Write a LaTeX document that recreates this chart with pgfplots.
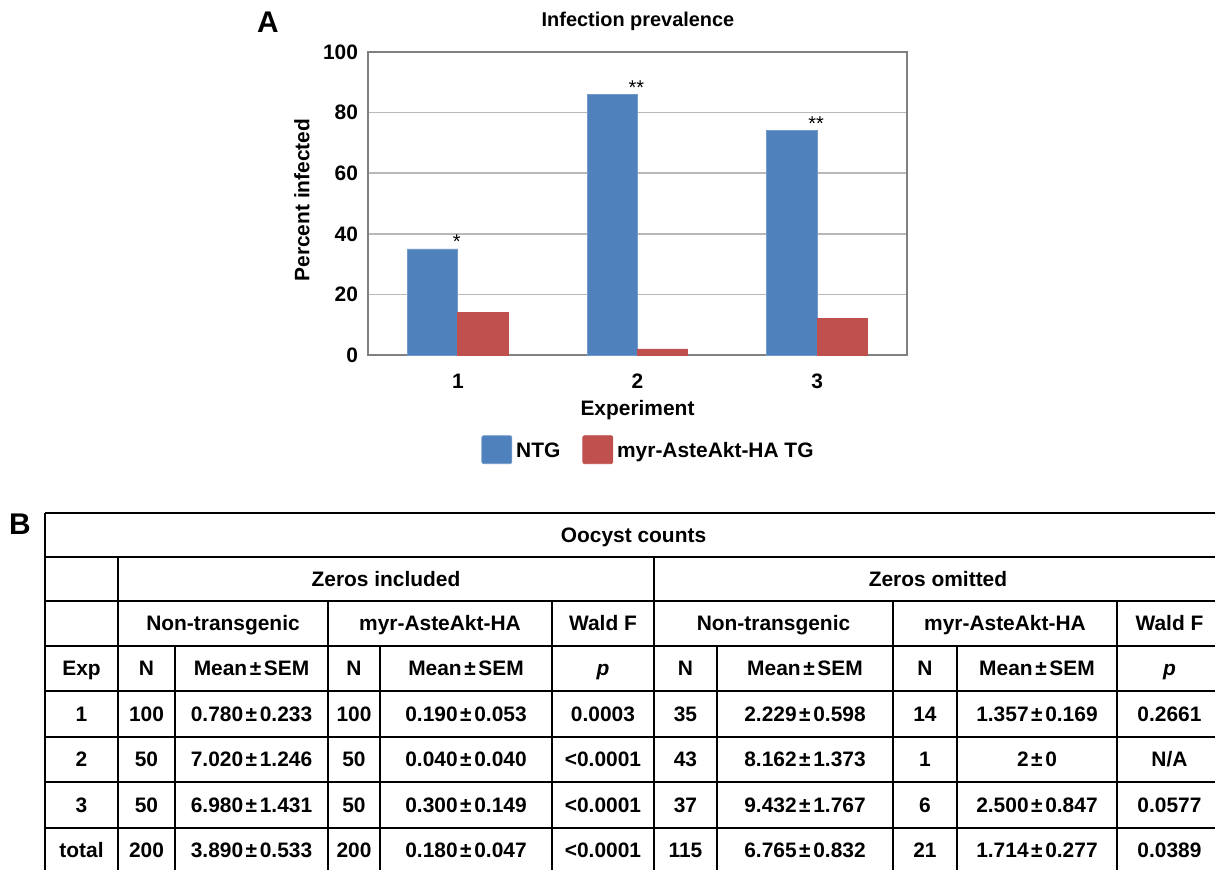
\documentclass[border=0pt]{standalone}
\usepackage{fontspec}
\setmainfont{Liberation Sans}
\usepackage{pgfplots}
\pgfplotsset{compat=1.18}
\definecolor{ntg}{HTML}{4F81BD}
\definecolor{tg}{HTML}{C0504D}
\newcommand\PM{\kern1.3pt±\kern1.3pt}
\newcommand\tf{\fontsize{10.5}{12}\selectfont\bfseries}
% one half row of the table: y, then 6 (left) or 5 (right) cells
\newcommand\rowL[7]{%
  \node at (81.5,#1) {#2}; \node at (146.5,#1) {#3}; \node at (251.5,#1) {#4};
  \node at (354,#1) {#5}; \node at (466,#1) {#6}; \node at (603,#1) {#7};}
\newcommand\rowR[6]{%
  \node at (685.5,#1) {#2}; \node at (805,#1) {#3}; \node at (925,#1) {#4};
  \node at (1037,#1) {#5}; \node at (1169.5,#1) {#6};}

\begin{document}
\begin{tikzpicture}
\path[use as bounding box] (0,0) rectangle (607.5bp,-435bp);
\begin{axis}[
  at={(184bp,-177.5bp)}, anchor=south west,
  width=269.5bp, height=151.5bp, scale only axis,
  ybar=0pt, bar width=0.28,
  xmin=0.5, xmax=3.5, ymin=0, ymax=100,
  xtick={1,2,3}, ytick={0,20,...,100},
  ymajorgrids, grid style={black!28, line width=0.8bp},
  axis line style={black!50, line width=0.8bp},
  major tick length=0pt,
  tick label style={font=\tf},
  /pgf/number format/assume math mode=true,
  yticklabel style={xshift=-1.5bp},
  xticklabel style={yshift=-6bp},
  xlabel={Experiment},
  xlabel style={at={(rel axis cs:0.5,0)}, anchor=center, yshift=-27.5bp, font=\tf},
  legend columns=2,
  legend style={at={(0.5,0)}, anchor=center, yshift=-47.5bp, xshift=6bp,
    draw=none, fill=none, font=\tf, inner sep=0pt,
    /tikz/every even column/.append style={column sep=9bp}},
  legend image code/.code={\fill[#1, rounded corners=1bp] (0bp,-6bp) rectangle (15bp,8bp);},
]
\addplot[fill=ntg, draw=ntg!80!white,
  point meta=explicit symbolic, nodes near coords,
  every node near coord/.append style={font=\fontsize{10}{12}\selectfont, inner sep=0pt, anchor=south, xshift=12bp}]
  coordinates {(1,35) [*] (2,86) [**] (3,74) [**]};
\addplot[fill=tg, draw=tg]
  coordinates {(1,14) (2,2) (3,12)};
\legend{NTG, myr-AsteAkt-HA TG}
\end{axis}

\begin{scope}[x=0.5bp, y=-0.5bp]
\clip (0,0) rectangle (1215,870);
\node[font=\fontsize{15}{18}\selectfont\bfseries] at (268,22) {A};
\node[font=\fontsize{15}{18}\selectfont\bfseries] at (20,524) {B};
\node[font=\fontsize{10}{12}\selectfont\bfseries, text height=7.2bp, text depth=0pt, inner sep=0pt] at (638,19) {Infection prevalence};
\node[font=\tf, rotate=90, text height=7.5bp, text depth=0pt, inner sep=0pt] at (302,200) {Percent infected};
\begin{scope}[line width=1bp, every node/.style={font=\tf, inner sep=0pt, text height=7.5bp, text depth=0pt}]
\foreach \y in {513,557,601,646,691,737,782,828}
  \draw (45,\y) -- (1230,\y);
\draw (45,513) -- (45,880);
\foreach \x in {118,654} \draw (\x,557) -- (\x,880);
\foreach \x in {328,552,893,1117} \draw (\x,601) -- (\x,880);
\foreach \x in {175,380,717,957} \draw (\x,646) -- (\x,880);
\draw (1222,513) -- (1222,880);
\node at (633.5,535) {Oocyst counts};
\node at (386,579) {Zeros included};
\node at (938,579) {Zeros omitted};
\node at (223,623.5) {Non-transgenic};
\node at (440,623.5) {myr-AsteAkt-HA};
\node at (603,623.5) {Wald F};
\node at (773.5,623.5) {Non-transgenic};
\node at (1005,623.5) {myr-AsteAkt-HA};
\node at (1169.5,623.5) {Wald F};
\rowL{668.5}{Exp}{N}{Mean\PM SEM}{N}{Mean\PM SEM}{\textit{p}}
\rowR{668.5}{N}{Mean\PM SEM}{N}{Mean\PM SEM}{\textit{p}}
\rowL{714}{1}{100}{0.780\PM 0.233}{100}{0.190\PM 0.053}{0.0003}
\rowR{714}{35}{2.229\PM 0.598}{14}{1.357\PM 0.169}{0.2661}
\rowL{759.5}{2}{50}{7.020\PM 1.246}{50}{0.040\PM 0.040}{<0.0001}
\rowR{759.5}{43}{8.162\PM 1.373}{1}{2\PM 0}{N/A}
\rowL{805}{3}{50}{6.980\PM 1.431}{50}{0.300\PM 0.149}{<0.0001}
\rowR{805}{37}{9.432\PM 1.767}{6}{2.500\PM 0.847}{0.0577}
\rowL{850.5}{total}{200}{3.890\PM 0.533}{200}{0.180\PM 0.047}{<0.0001}
\rowR{850.5}{115}{6.765\PM 0.832}{21}{1.714\PM 0.277}{0.0389}
\end{scope}
\end{scope}
\end{tikzpicture}
\end{document}
